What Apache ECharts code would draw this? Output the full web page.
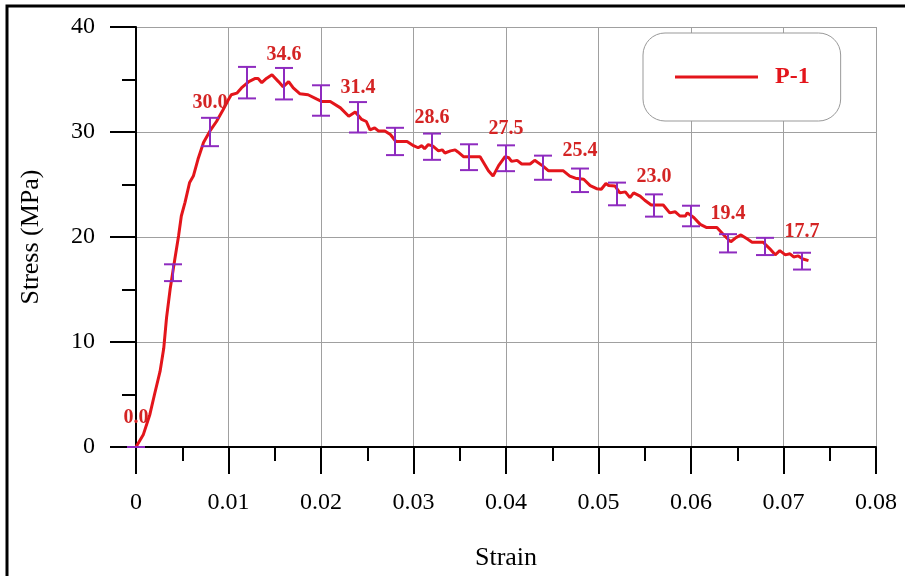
<!DOCTYPE html>
<html>
<head>
<meta charset="utf-8">
<script src="https://cdn.jsdelivr.net/npm/echarts@6/dist/echarts.min.js"></script>
<style>
html,body{margin:0;padding:0;background:#fff;}
#chart{width:905px;height:576px;}
</style>
</head>
<body>
<div id="chart"></div>
<script>
// Stress-strain curve P-1
const strain = [0, 0.0008, 0.0015, 0.002, 0.0026, 0.003, 0.0033, 0.0037, 0.0042, 0.0046, 0.0049, 0.0053, 0.0058, 0.0062, 0.0067, 0.0073, 0.008, 0.0087, 0.0094, 0.01, 0.0103, 0.0109, 0.0114, 0.0122, 0.0129, 0.0132, 0.0136, 0.0141, 0.0147, 0.0154, 0.0159, 0.0165, 0.017, 0.0177, 0.0186, 0.0195, 0.0201, 0.021, 0.0221, 0.023, 0.0237, 0.0244, 0.0249, 0.0253, 0.0258, 0.0262, 0.0269, 0.0275, 0.0281, 0.0293, 0.03, 0.0305, 0.0309, 0.0312, 0.0316, 0.0321, 0.0327, 0.0331, 0.0334, 0.034, 0.0345, 0.0348, 0.0354, 0.0361, 0.0372, 0.0381, 0.0386, 0.0392, 0.0399, 0.0403, 0.0406, 0.0412, 0.0417, 0.0426, 0.0431, 0.044, 0.0446, 0.0462, 0.0469, 0.0475, 0.0484, 0.0491, 0.0498, 0.0503, 0.0508, 0.0511, 0.0518, 0.0523, 0.0529, 0.0534, 0.0538, 0.0545, 0.055, 0.0557, 0.057, 0.0577, 0.0583, 0.0588, 0.0594, 0.0596, 0.0603, 0.061, 0.0617, 0.0628, 0.0637, 0.0643, 0.0648, 0.0654, 0.0661, 0.0666, 0.0678, 0.0685, 0.0691, 0.0696, 0.0702, 0.0707, 0.0711, 0.0716, 0.0721, 0.0727];
const stress = [0, 1.2, 3.1, 5.0, 7.2, 9.4, 12.3, 15.1, 17.9, 20.1, 22.0, 23.3, 25.2, 25.8, 27.4, 29.0, 30.1, 31.0, 32.1, 33.1, 33.55, 33.7, 34.2, 34.8, 35.1, 35.1, 34.7, 35.1, 35.45, 34.8, 34.3, 34.8, 34.2, 33.65, 33.55, 33.15, 32.9, 32.9, 32.3, 31.5, 31.9, 31.2, 31.0, 30.2, 30.4, 30.1, 30.1, 29.76, 29.1, 29.1, 28.7, 28.5, 28.7, 28.4, 28.8, 28.65, 28.2, 28.3, 28.0, 28.2, 28.3, 28.1, 27.65, 27.65, 27.65, 26.3, 25.8, 26.8, 27.65, 27.55, 27.2, 27.3, 26.95, 26.95, 27.3, 26.75, 26.3, 26.3, 25.8, 25.6, 25.5, 24.9, 24.6, 24.55, 25.1, 24.9, 24.85, 24.2, 24.3, 23.75, 24.2, 23.9, 23.5, 23.05, 23.05, 22.3, 22.4, 22.0, 22.0, 22.3, 21.85, 21.2, 20.9, 20.9, 20.05, 19.55, 19.9, 20.2, 19.8, 19.5, 19.5, 18.9, 18.3, 18.7, 18.3, 18.4, 18.1, 18.2, 17.9, 17.75];

// Error bars
const errStrain = [0, 0.004, 0.008, 0.012, 0.016, 0.020, 0.024, 0.028, 0.032, 0.036, 0.040, 0.044, 0.048, 0.052, 0.056, 0.060, 0.064, 0.068, 0.072];
const errMean = [0, 16.6, 30.0, 34.7, 34.6, 33.0, 31.4, 29.1, 28.6, 27.6, 27.5, 26.6, 25.4, 24.1, 23.0, 22.0, 19.4, 19.1, 17.7];
const errDev = [0, 0.8, 1.35, 1.5, 1.5, 1.45, 1.45, 1.3, 1.25, 1.23, 1.23, 1.15, 1.12, 1.08, 1.06, 0.98, 0.87, 0.82, 0.8];

// Value labels
const labelStrain = [0, 0.008, 0.016, 0.024, 0.032, 0.040, 0.048, 0.056, 0.064, 0.072];
const labelValue = [0.0, 30.0, 34.6, 31.4, 28.6, 27.5, 25.4, 23.0, 19.4, 17.7];

const seriesName = 'P-1';
const xTitle = 'Strain';
const yTitle = 'Stress (MPa)';

const RED = '#E3151B';
const LABEL_RED = '#D42424';
const PURPLE = '#8E2BBF';
const FONT = '"Liberation Serif", "Times New Roman", serif';

const lineData = strain.map((x, i) => [x, stress[i]]);
const errData = errStrain.map((x, i) => [x, errMean[i], errDev[i]]);
const labelData = labelStrain.map((x, i) => [x, labelValue[i]]);

const chart = echarts.init(document.getElementById('chart'), null, {renderer: 'canvas'});

const option = {
  backgroundColor: '#fff',
  animation: false,
  grid: {left: 136, right: 29, top: 27, bottom: 127, containLabel: false},
  graphic: [{
    type: 'rect', z: 100,
    shape: {x: 7, y: 6, width: 1200, height: 1200},
    style: {fill: 'none', stroke: '#000', lineWidth: 3}
  }],
  legend: {
    data: [{name: seriesName, icon: 'rect'}],
    left: 643, top: 33,
    padding: [32, 31, 32, 32],
    borderColor: '#999', borderWidth: 1, borderRadius: 22,
    backgroundColor: '#fff',
    itemWidth: 83, itemHeight: 3,
    itemStyle: {color: RED},
    textStyle: {color: RED, fontWeight: 'bold', fontSize: 24, fontFamily: FONT, padding: [0, 0, 0, 12]}
  },
  xAxis: {
    type: 'value', min: 0, max: 0.08, interval: 0.01,
    name: xTitle, nameLocation: 'middle', nameGap: 98,
    nameTextStyle: {fontSize: 26, fontFamily: FONT, color: '#000'},
    axisLine: {show: true, onZero: false, lineStyle: {color: '#000', width: 2}},
    axisTick: {show: true, inside: false, length: 27, lineStyle: {color: '#000', width: 2}},
    minorTick: {show: true, splitNumber: 2, length: 14, lineStyle: {color: '#000', width: 2}},
    axisLabel: {margin: 44, fontSize: 24, fontFamily: FONT, color: '#000',
      formatter: v => String(parseFloat(v.toFixed(2)))},
    splitLine: {show: true, lineStyle: {color: '#a0a0a0', width: 1}}
  },
  yAxis: {
    type: 'value', min: 0, max: 40, interval: 10,
    name: yTitle, nameLocation: 'middle', nameGap: 92,
    nameTextStyle: {fontSize: 26, fontFamily: FONT, color: '#000'},
    axisLine: {show: true, onZero: false, lineStyle: {color: '#000', width: 2}},
    axisTick: {show: true, inside: false, length: 26, lineStyle: {color: '#000', width: 2}},
    minorTick: {show: true, splitNumber: 2, length: 14, lineStyle: {color: '#000', width: 2}},
    axisLabel: {margin: 41, fontSize: 24, fontFamily: FONT, color: '#000'},
    splitLine: {show: true, lineStyle: {color: '#a0a0a0', width: 1}}
  },
  series: [
    {
      name: seriesName, type: 'line', data: lineData,
      symbol: 'none', showSymbol: false, smooth: false,
      lineStyle: {color: RED, width: 3}, itemStyle: {color: RED},
      z: 3
    },
    {
      name: 'err', type: 'custom', data: errData, z: 4,
      renderItem: function (params, api) {
        const x = api.value(0), m = api.value(1), d = api.value(2);
        const t = api.coord([x, m + d]);
        const b = api.coord([x, m - d]);
        const cap = 9;
        const st = {stroke: PURPLE, lineWidth: 2};
        return {type: 'group', children: [
          {type: 'line', shape: {x1: t[0], y1: t[1], x2: b[0], y2: b[1]}, style: st},
          {type: 'line', shape: {x1: t[0] - cap, y1: t[1], x2: t[0] + cap, y2: t[1]}, style: st},
          {type: 'line', shape: {x1: b[0] - cap, y1: b[1], x2: b[0] + cap, y2: b[1]}, style: st}
        ]};
      }
    },
    {
      name: 'labels', type: 'custom', data: labelData, z: 5,
      renderItem: function (params, api) {
        const c = api.coord([api.value(0), api.value(1)]);
        return {type: 'text', x: c[0], y: c[1] - 29,
          style: {text: api.value(1).toFixed(1), align: 'center', verticalAlign: 'middle',
            fill: LABEL_RED, font: 'bold 20px ' + FONT}};
      }
    }
  ]
};
chart.setOption(option);
</script>
</body>
</html>
